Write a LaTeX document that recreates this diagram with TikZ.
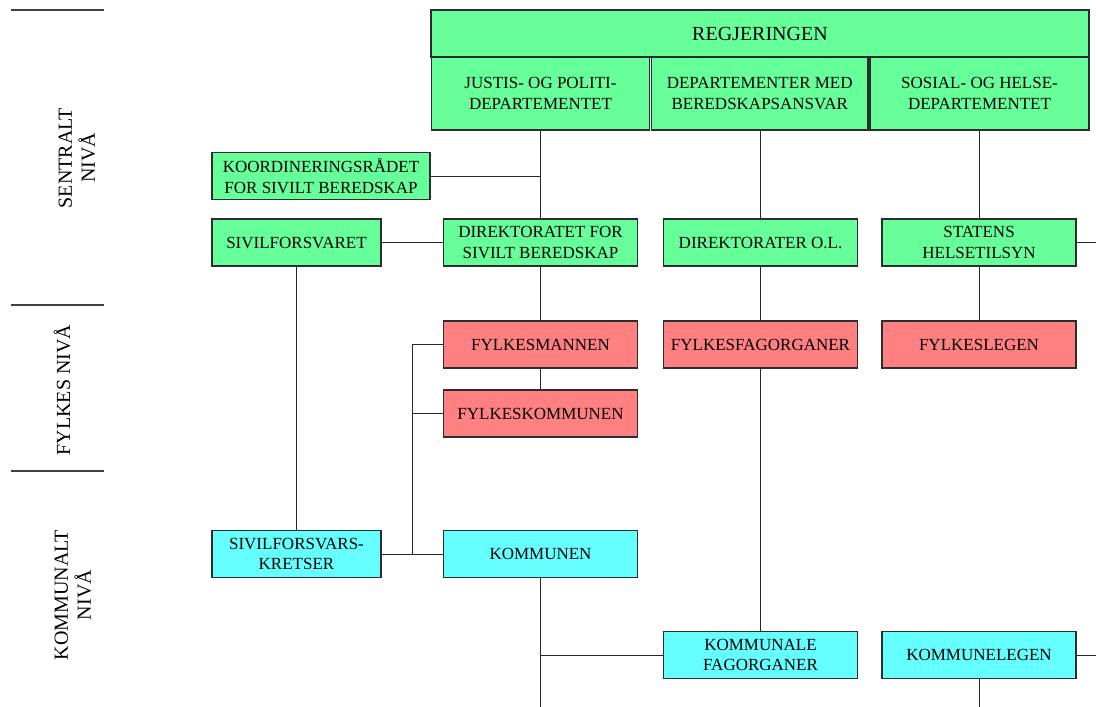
\documentclass[tikz,border=0pt]{standalone}
\usepackage{fontspec}
\setmainfont{Liberation Serif}
\definecolor{gfill}{RGB}{102,255,153}
\definecolor{rfill}{RGB}{255,128,128}
\definecolor{cfill}{RGB}{102,255,255}
\definecolor{bord}{RGB}{45,45,45}
\tikzset{
  box/.style={draw=bord, line width=1.1pt, align=center, inner sep=0pt,
    font=\fontsize{17}{20.7}\selectfont, text=black},
  gbox/.style={box, fill=gfill},
  rbox/.style={box, fill=rfill},
  cbox/.style={box, fill=cfill},
  conn/.style={draw=black!85, line width=1pt},
  lvl/.style={rotate=90, align=center, font=\fontsize{20}{23}\selectfont},
  lvline/.style={draw=black!75, line width=1.2pt}
}
\begin{document}
\begin{tikzpicture}[x=1pt,y=-1pt]
\useasboundingbox (0,0) rectangle (1096,707);
% level markers
\draw[lvline] (11,10) -- (104,10);
\draw[lvline] (11,305) -- (104,305);
\draw[lvline] (11,471) -- (104,471);
\node[lvl] (lsent) at (77,158) {SENTRALT\\NIVÅ};
\node[lvl] (lfylk) at (62,390) {FYLKES NIVÅ};
\node[lvl] (lkomm) at (73,595) {KOMMUNALT\\NIVÅ};
% boxes
\node[gbox, minimum width=658pt, minimum height=47pt, font=\fontsize{20}{23}\selectfont] (reg) at (760,33.5) {REGJERINGEN};
\node[gbox, minimum width=217.5pt, minimum height=73pt] (just) at (540.5,93.5) {JUSTIS- OG POLITI-\\DEPARTEMENTET};
\node[gbox, minimum width=216.5pt, minimum height=73pt] (dep) at (759.7,93.5) {DEPARTEMENTER MED\\BEREDSKAPSANSVAR};
\node[gbox, minimum width=219pt, minimum height=73pt] (sos) at (979.5,93.5) {SOSIAL- OG HELSE-\\DEPARTEMENTET};
\node[gbox, minimum width=218pt, minimum height=47pt] (koord) at (321,176) {KOORDINERINGSRÅDET\\FOR SIVILT BEREDSKAP};
\node[gbox, minimum width=169pt, minimum height=47pt] (sivf) at (296.5,242.5) {SIVILFORSVARET};
\node[gbox, minimum width=194pt, minimum height=47pt] (dsb) at (540.5,242.5) {DIREKTORATET FOR\\SIVILT BEREDSKAP};
\node[gbox, minimum width=194pt, minimum height=47pt] (dir) at (760.5,242.5) {DIREKTORATER O.L.};
\node[gbox, minimum width=194pt, minimum height=47pt] (stat) at (979,242.5) {STATENS\\HELSETILSYN};
\node[rbox, minimum width=194pt, minimum height=47pt] (fm) at (540.5,344.5) {FYLKESMANNEN};
\node[rbox, minimum width=194pt, minimum height=47pt] (fsf) at (760.5,344.5) {FYLKESFAGORGANER};
\node[rbox, minimum width=194pt, minimum height=47pt] (fl) at (979,344.5) {FYLKESLEGEN};
\node[rbox, minimum width=194pt, minimum height=47pt] (fk) at (540.5,413.5) {FYLKESKOMMUNEN};
\node[cbox, minimum width=169pt, minimum height=47pt] (kr) at (296.5,554) {SIVILFORSVARS-\\KRETSER};
\node[cbox, minimum width=194pt, minimum height=47pt] (kom) at (540.5,554) {KOMMUNEN};
\node[cbox, minimum width=194pt, minimum height=47pt] (kfa) at (760.5,655) {KOMMUNALE\\FAGORGANER};
\node[cbox, minimum width=194pt, minimum height=47pt] (kl) at (979,655) {KOMMUNELEGEN};
% free ends
\coordinate (br) at (412,0);
\coordinate (rightedge) at (1096,0);
\coordinate (bottomedge) at (0,707);
% connectors
\draw[conn] (just.south -| dsb.north) -- (dsb.north);
\draw[conn] (koord.east) -- (koord.east -| dsb.north);
\draw[conn] (sivf.east) -- (dsb.west);
\draw[conn] (dep.south -| dir.north) -- (dir.north);
\draw[conn] (sos.south -| stat.north) -- (stat.north);
\draw[conn] (stat.east) -- (stat.east -| rightedge);
\draw[conn] (dsb.south) -- (fm.north);
\draw[conn] (fm.south) -- (fk.north);
\draw[conn] (dir.south) -- (fsf.north);
\draw[conn] (fsf.south) -- (kfa.north);
\draw[conn] (stat.south) -- (fl.north);
\draw[conn] (sivf.south) -- (kr.north);
\draw[conn] (kr.east) -- (kom.west);
\draw[conn] (fm.west) -- (fm.west -| br) -- (kom.west -| br);
\draw[conn] (fk.west) -- (fk.west -| br);
\draw[conn] (kom.south) -- (kom.south |- bottomedge);
\draw[conn] (kom.south |- kfa.west) -- (kfa.west);
\draw[conn] (kl.east) -- (kl.east -| rightedge);
\draw[conn] (kl.south) -- (kl.south |- bottomedge);
\end{tikzpicture}
\end{document}
